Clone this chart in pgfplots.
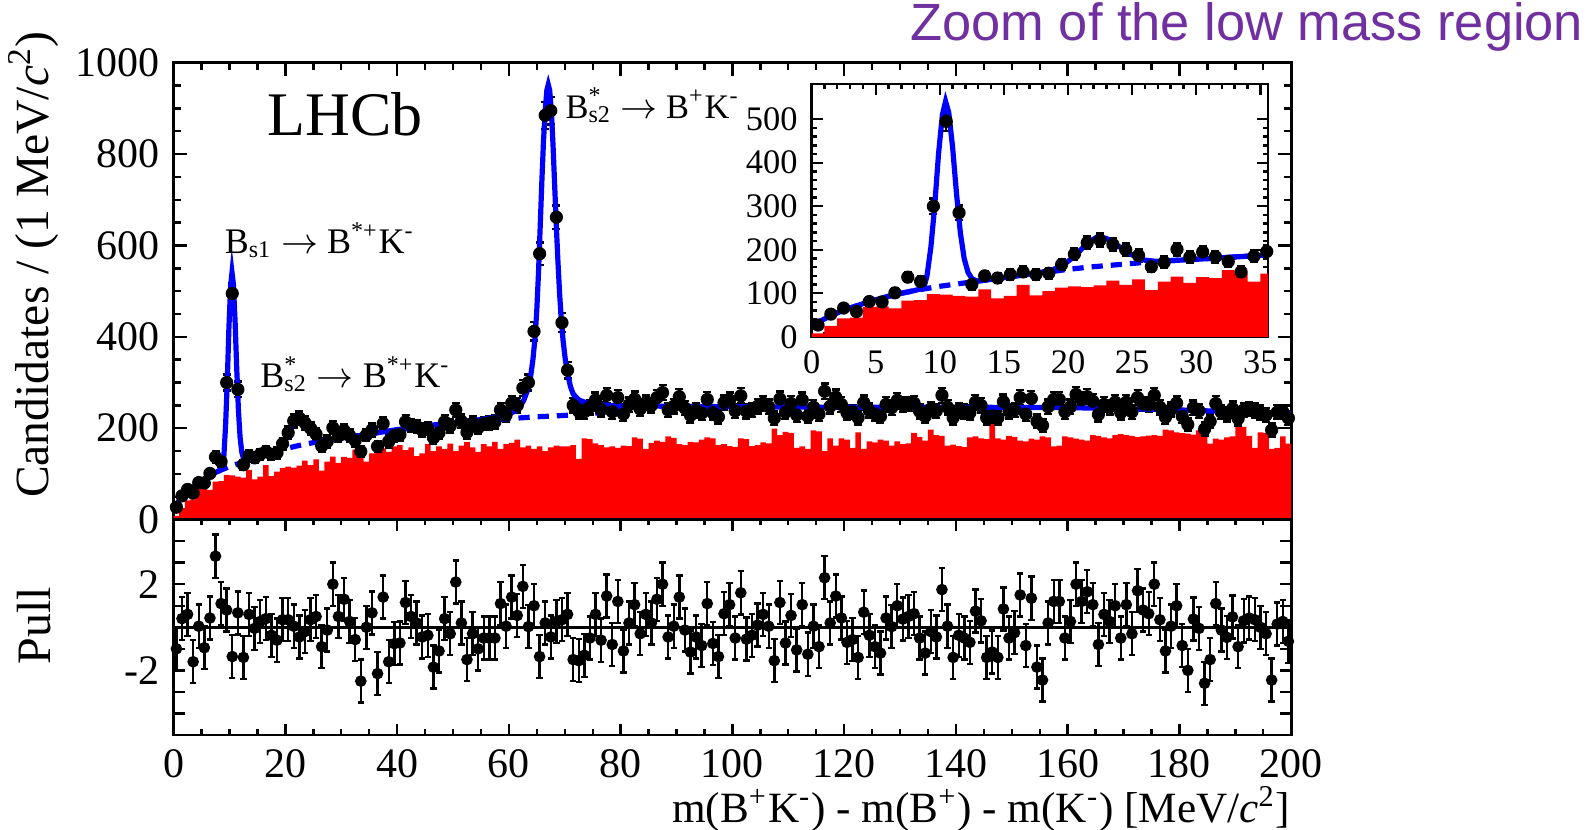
\documentclass[border=0pt]{standalone}
\usepackage{fontspec}
\setmainfont{Liberation Serif}
\newfontfamily\arialfont{Liberation Sans}
\usepackage{pgfplots}
\pgfplotsset{compat=1.18}
\usepackage{pgfplotstable}
\definecolor{zoompurple}{RGB}{112,48,160}

\pgfplotstableread[row sep=\\]{
x d p\\
0.5 27 -1.0\\ 1.5 52 0.4\\ 2.5 66 0.6\\ 3.5 58 -1.6\\ 4.5 81 0.05\\ 5.5 80 -0.95\\ 6.5 101 0.43\\ 7.5 137 3.3\\ 8.5 127 1.1\\ 9.5 300 0.8\\
10.5 495 -1.36\\ 11.5 285 0.67\\ 12.5 120 -1.4\\ 13.5 140 0.6\\ 14.5 135 -0.05\\ 15.5 143 0.27\\ 16.5 149 0.4\\ 17.5 143 -0.37\\ 18.5 146 -0.6\\ 19.5 166 0.35\\
20.5 190 0.35\\ 21.5 216 0.05\\ 22.5 222 -0.45\\ 23.5 212 -0.2\\ 24.5 200 0.35\\ 25.5 187 0.5\\ 26.5 161 -0.9\\ 27.5 171 -0.13\\ 28.5 201 2.0\\ 29.5 183 0.5\\
30.5 195 1.3\\ 31.5 184 0.27\\ 32.5 173 -0.57\\ 33.5 149 -2.5\\ 34.5 185 0.0\\ 35.5 196 0.67\\ 36.5 160 -2.15\\ 37.5 210 1.4\\ 38.5 171 -1.6\\ 39.5 184 -0.76\\
40.5 186 -0.73\\ 41.5 214 1.15\\ 42.5 206 0.5\\ 43.5 204 0.2\\ 44.5 196 -0.45\\ 45.5 199 -0.37\\ 46.5 179 -1.85\\ 47.5 190 -1.1\\ 48.5 214 0.4\\ 49.5 205 -0.3\\
50.5 240 2.1\\ 51.5 215 0.2\\ 52.5 191 -1.5\\ 53.5 211 -0.3\\ 54.5 201 -1.0\\ 55.5 210 -0.5\\ 56.5 212 -0.5\\ 57.5 214 -0.5\\ 58.5 240 1.1\\ 59.5 229 0.05\\
60.5 255 1.4\\ 61.5 250 0.55\\ 62.5 288 1.9\\ 63.5 300 0.03\\ 64.5 412 1.0\\ 65.5 582 -1.36\\ 66.5 885 0.2\\ 67.5 895 -0.45\\ 68.5 662 0.27\\ 69.5 431 0.35\\
70.5 327 0.6\\ 71.5 250 -1.5\\ 72.5 237 -1.55\\ 73.5 236 -1.3\\ 74.5 246 -0.5\\ 75.5 262 0.6\\ 76.5 241 -0.6\\ 77.5 272 1.45\\ 78.5 236 -0.8\\ 79.5 267 1.2\\
80.5 231 -1.1\\ 81.5 251 0.2\\ 82.5 264 1.05\\ 83.5 242 -0.3\\ 84.5 256 0.6\\ 85.5 250 0.2\\ 86.5 267 1.3\\ 87.5 278 2.0\\ 88.5 240 -0.45\\ 89.5 248 0.05\\
90.5 269 1.4\\ 91.5 244 -0.13\\ 92.5 228 -1.15\\ 93.5 239 -0.45\\ 94.5 233 -0.85\\ 95.5 263 1.1\\ 96.5 234 -0.75\\ 97.5 225 -1.36\\ 98.5 256 0.63\\ 99.5 262 1.05\\
100.5 238 -0.5\\ 101.5 271 1.6\\ 102.5 237 -0.55\\ 103.5 240 -0.37\\ 104.5 248 0.1\\ 105.5 255 0.6\\ 106.5 247 0.05\\ 107.5 222 -1.55\\ 108.5 264 1.15\\ 109.5 235 -0.73\\
110.5 254 0.55\\ 111.5 229 -1.05\\ 112.5 262 1.05\\ 113.5 226 -1.25\\ 114.5 246 0.05\\ 115.5 231 -0.9\\ 116.5 281 2.3\\ 117.5 248 0.2\\ 118.5 268 1.45\\ 119.5 252 0.43\\
120.5 234 -0.7\\ 121.5 236 -0.57\\ 122.5 223 -1.4\\ 123.5 256 0.7\\ 124.5 239 -0.37\\ 125.5 231 -0.9\\ 126.5 226 -1.2\\ 127.5 252 0.43\\ 128.5 245 0.03\\ 129.5 261 1.0\\
130.5 251 0.38\\ 131.5 253 0.5\\ 132.5 255 0.63\\ 133.5 237 -0.5\\ 134.5 226 -1.2\\ 135.5 242 -0.2\\ 136.5 238 -0.45\\ 137.5 272 1.75\\ 138.5 246 0.05\\ 139.5 223 -1.4\\
140.5 239 -0.37\\ 141.5 237 -0.5\\ 142.5 234 -0.7\\ 143.5 257 0.75\\ 144.5 250 0.3\\ 145.5 223 -1.4\\ 146.5 227 -1.15\\ 147.5 223 -1.4\\ 148.5 258 0.85\\ 149.5 237 -0.5\\
150.5 240 -0.25\\ 151.5 267 1.5\\ 152.5 231 -0.85\\ 153.5 265 1.35\\ 154.5 215 -1.85\\ 155.5 206 -2.45\\ 156.5 247 0.2\\ 157.5 263 1.2\\ 158.5 263 1.2\\ 159.5 236 -0.5\\
160.5 247 0.27\\ 161.5 274 2.0\\ 162.5 262 1.2\\ 163.5 269 1.65\\ 164.5 259 1.05\\ 165.5 230 -0.8\\ 166.5 252 0.6\\ 167.5 246 0.27\\ 168.5 257 1.0\\ 169.5 234 -0.5\\
170.5 257 1.05\\ 171.5 236 -0.3\\ 172.5 267 1.7\\ 173.5 253 0.8\\ 174.5 251 0.63\\ 175.5 272 2.0\\ 176.5 246 0.35\\ 177.5 224 -1.1\\ 178.5 241 0.05\\ 179.5 255 1.0\\
180.5 226 -0.85\\ 181.5 208 -2.0\\ 182.5 245 0.38\\ 183.5 238 -0.05\\ 184.5 198 -2.6\\ 185.5 215 -1.5\\ 186.5 254 1.1\\ 187.5 235 -0.13\\ 188.5 230 -0.47\\ 189.5 243 0.48\\
190.5 221 -0.9\\ 191.5 240 0.3\\ 192.5 242 0.43\\ 193.5 239 0.35\\ 194.5 234 0.0\\ 195.5 229 -0.3\\ 196.5 196 -2.45\\ 197.5 235 0.15\\ 198.5 236 0.27\\ 199.5 222 -0.65\\
}\maindata

\pgfplotstableread[row sep=\\]{
x r\\
0 8\\ 1 25\\ 2 42\\ 3 44\\ 4 68\\ 5 70\\ 6 65\\ 7 83\\ 8 84\\ 9 98\\
10 97\\ 11 94\\ 12 92\\ 13 109\\ 14 88\\ 15 94\\ 16 119\\ 17 95\\ 18 105\\ 19 113\\
20 116\\ 21 114\\ 22 118\\ 23 129\\ 24 119\\ 25 132\\ 26 107\\ 27 127\\ 28 138\\ 29 124\\
30 137\\ 31 135\\ 32 153\\ 33 146\\ 34 127\\ 35 145\\ 36 150\\ 37 156\\ 38 148\\ 39 160\\
40 163\\ 41 152\\ 42 158\\ 43 139\\ 44 145\\ 45 165\\ 46 150\\ 47 160\\ 48 155\\ 49 166\\
50 150\\ 51 162\\ 52 170\\ 53 158\\ 54 148\\ 55 165\\ 56 160\\ 57 170\\ 58 155\\ 59 165\\
60 168\\ 61 175\\ 62 158\\ 63 162\\ 64 155\\ 65 160\\ 66 150\\ 67 158\\ 68 162\\ 69 160\\
70 160\\ 71 163\\ 72 133\\ 73 178\\ 74 176\\ 75 167\\ 76 163\\ 77 158\\ 78 160\\ 79 157\\
80 162\\ 81 161\\ 82 180\\ 83 177\\ 84 155\\ 85 168\\ 86 173\\ 87 170\\ 88 182\\ 89 179\\
90 165\\ 91 163\\ 92 170\\ 93 169\\ 94 175\\ 95 180\\ 96 178\\ 97 163\\ 98 165\\ 99 161\\
100 159\\ 101 178\\ 102 176\\ 103 161\\ 104 163\\ 105 169\\ 106 167\\ 107 199\\ 108 185\\ 109 192\\
110 190\\ 111 157\\ 112 160\\ 113 155\\ 114 195\\ 115 193\\ 116 150\\ 117 178\\ 118 162\\ 119 178\\
120 175\\ 121 157\\ 122 191\\ 123 155\\ 124 171\\ 125 169\\ 126 175\\ 127 173\\ 128 162\\ 129 171\\
130 165\\ 131 167\\ 132 190\\ 133 181\\ 134 173\\ 135 197\\ 136 185\\ 137 183\\ 138 162\\ 139 164\\
140 161\\ 141 159\\ 142 180\\ 143 182\\ 144 178\\ 145 176\\ 146 212\\ 147 178\\ 148 175\\ 149 183\\
150 181\\ 151 173\\ 152 171\\ 153 177\\ 154 175\\ 155 182\\ 156 180\\ 157 160\\ 158 162\\ 159 182\\
160 180\\ 161 177\\ 162 175\\ 163 173\\ 164 185\\ 165 183\\ 166 180\\ 167 178\\ 168 185\\ 169 187\\
170 185\\ 171 183\\ 172 181\\ 173 182\\ 174 184\\ 175 185\\ 176 183\\ 177 197\\ 178 195\\ 179 191\\
180 189\\ 181 188\\ 182 186\\ 183 195\\ 184 193\\ 185 166\\ 186 177\\ 187 175\\ 188 180\\ 189 182\\
190 205\\ 191 203\\ 192 183\\ 193 157\\ 194 191\\ 195 189\\ 196 155\\ 197 157\\ 198 182\\ 199 166\\
200 166\\
}\reddata

\pgfplotstableread[row sep=\\]{
x y\\
0 25\\ 0.5 33\\ 1 41\\ 1.5 48\\ 2 55\\ 3 66\\ 4 76\\ 5 85\\ 6 93\\ 7 100\\ 8 106\\ 8.5 110\\ 8.8 118\\
9.0 140\\ 9.3 205\\ 9.6 300\\ 9.9 420\\ 10.2 510\\ 10.45 541\\ 10.7 515\\ 11.0 435\\ 11.3 330\\ 11.6 240\\
11.9 180\\ 12.2 148\\ 12.5 134\\ 12.9 128\\ 13.5 130\\ 15 136\\ 17 144\\ 18.5 151\\ 19.5 162\\ 20.5 185\\
21.5 215\\ 22.3 230\\ 23 226\\ 24 207\\ 25 188\\ 26 176\\ 27 173\\ 28 175\\ 30 178\\ 35 187\\ 40 197\\
45 205\\ 50 212\\ 55 219\\ 58 225\\ 60 231\\ 61 237\\ 62 247\\ 62.7 262\\ 63.3 282\\ 63.8 305\\ 64.3 350\\
64.7 400\\ 65.0 460\\ 65.3 540\\ 65.6 640\\ 65.9 740\\ 66.2 830\\ 66.5 895\\ 66.8 940\\ 67.05 952\\
67.3 940\\ 67.6 895\\ 67.9 820\\ 68.2 730\\ 68.5 640\\ 68.8 560\\ 69.1 490\\ 69.4 435\\ 69.7 392\\
70.1 350\\ 70.5 320\\ 71 292\\ 71.5 275\\ 72.5 262\\ 74 255\\ 76 251\\ 80 249\\ 90 248\\ 100 247\\
120 246\\ 140 246\\ 160 245\\ 170 243\\ 180 240\\ 190 236\\ 200 232\\
}\fitdata

\pgfplotstableread[row sep=\\]{
x y\\
0 25\\ 1 41\\ 2 55\\ 3 66\\ 4 76\\ 5 85\\ 6 93\\ 7 100\\ 8 106\\ 9 111\\ 10 116\\ 11 120\\ 12 124\\
13 128\\ 14 132\\ 15 136\\ 16 140\\ 17 144\\ 18 148\\ 19 151\\ 20 155\\ 22 161\\ 24 166\\ 26 171\\
28 175\\ 30 178\\ 35 187\\ 40 196\\ 45 204\\ 50 210\\ 55 216\\ 60 221\\ 65 225\\ 70 228\\ 74 231\\
77 235\\ 80 241\\ 84 248\\
}\bkgdata

\pgfplotsset{
  rootstyle/.style={
    scale only axis,
    axis line style={line width=0.7pt},
    every tick/.style={line width=0.6pt, black},
    tick align=inside,
    tick label style={font=\fontsize{10.5}{12}\selectfont},
    /pgf/number format/assume math mode=true,
    /pgf/number format/1000 sep={},
    clip=true,
  },
  datamarks/.style={only marks, mark=*, black, mark size=1.45pt,
    error bars/.cd, y dir=both, y explicit,
    error bar style={line width=0.6pt, black},
    error mark options={rotate=90, mark size=1pt, line width=0.6pt, black}},
}

\begin{document}
\begin{tikzpicture}
\useasboundingbox (0,0) rectangle (399pt,207.5pt);

% main panel
\begin{axis}[rootstyle,
  at={(43.4pt,77.6pt)}, anchor=south west,
  width=279.4pt, height=114.2pt,
  xmin=0, xmax=200, ymin=0, ymax=1000,
  xtick={0,20,...,200}, xticklabels={},
  ytick={0,200,...,1000},
  minor x tick num=3, minor y tick num=3,
  major tick length=3.3pt, minor tick length=1.8pt,
]
\addplot[fill=red, draw=none, const plot mark left] table[x=x, y=r] \reddata \closedcycle;
\addplot[datamarks] table[x=x, y=d, y error expr={sqrt(\thisrow{d})}] \maindata;
\addplot[blue, line width=1.3pt, dash pattern=on 2.8pt off 2pt] table[x=x, y=y] \bkgdata;
\addplot[blue, line width=1.3pt] table[x=x, y=y] \fitdata;
\end{axis}

% pull panel
\begin{axis}[rootstyle,
  at={(43.4pt,23.75pt)}, anchor=south west,
  width=279.4pt, height=53.85pt,
  xmin=0, xmax=200, ymin=-5, ymax=5,
  xtick={0,20,...,200},
  minor x tick num=3,
  ytick={-2,2}, yticklabels={-2,2},
  extra y ticks={-4,-3,-1,0,1,3,4}, extra y tick labels={},
  major tick length=2.8pt, minor tick length=1.4pt,
]
\addplot[black, line width=0.7pt] coordinates {(0,0) (200,0)};
\addplot[only marks, mark=*, black, mark size=1.25pt,
  error bars/.cd, y dir=both, y fixed=1,
  error bar style={line width=0.6pt, black},
  error mark options={rotate=90, mark size=0.8pt, line width=0.6pt, black}]
  table[x=x, y=p] \maindata;
\end{axis}

% inset
\begin{axis}[rootstyle,
  at={(202.9pt,123.3pt)}, anchor=south west,
  width=114.1pt, height=63.2pt,
  axis background/.style={fill=white},
  xmin=0, xmax=35.6, ymin=0, ymax=581,
  xtick={0,5,...,35}, ytick={0,100,...,500},
  minor x tick num=4, minor y tick num=4,
  major tick length=2.8pt, minor tick length=1.3pt,
  tick label style={font=\fontsize{8.6}{10}\selectfont},
]
\addplot[fill=red, draw=none, const plot mark left] table[x=x, y=r] \reddata \closedcycle;
\addplot[restrict x to domain=-1:37, datamarks] table[x=x, y=d, y error expr={sqrt(\thisrow{d})}] \maindata;
\addplot[blue, line width=1.3pt, dash pattern=on 2.8pt off 2pt] table[x=x, y=y] \bkgdata;
\addplot[blue, line width=1.3pt] table[x=x, y=y] \fitdata;
\end{axis}

% texts
\node[anchor=base west, inner sep=0, font=\fontsize{15.5}{18}\selectfont] at (66.7pt,173.6pt) {LHCb};
\node[anchor=base west, inner sep=0, font=\fontsize{9}{10}\selectfont] at (56pt,144pt)
  {B\textsubscript{s1} $\rightarrow$ B\textsuperscript{*+}K\textsuperscript{-}};
\node[anchor=base west, inner sep=0, font=\fontsize{9}{10}\selectfont] at (64.9pt,110.6pt)
  {B\rlap{\textsuperscript{*}}\textsubscript{s2} $\rightarrow$ B\textsuperscript{*+}K\textsuperscript{-}};
\node[anchor=base west, inner sep=0, font=\fontsize{8.6}{10}\selectfont] at (141.2pt,177.8pt)
  {B\rlap{\textsuperscript{*}}\textsubscript{s2} $\rightarrow$ B\textsuperscript{+}K\textsuperscript{-}};
\node[anchor=base east, inner sep=0, font=\arialfont\fontsize{13.1}{15}\selectfont, text=zoompurple] at (396pt,197.3pt)
  {Zoom of the low mass region};
\node[rotate=90, anchor=base east, inner sep=0, font=\fontsize{11.9}{14}\selectfont] at (12pt,199.9pt)
  {Candidates / (1 MeV/\textit{c}\textsuperscript{2})};
\node[rotate=90, anchor=base, inner sep=0, font=\fontsize{12}{14}\selectfont] at (12.7pt,51pt) {Pull};
\node[anchor=base east, inner sep=0, font=\fontsize{10.8}{13}\selectfont] at (322.75pt,1.9pt)
  {m(B\textsuperscript{+}K\textsuperscript{-}) - m(B\textsuperscript{+}) - m(K\textsuperscript{-}) [MeV/\textit{c}\textsuperscript{2}]};
\end{tikzpicture}
\end{document}
